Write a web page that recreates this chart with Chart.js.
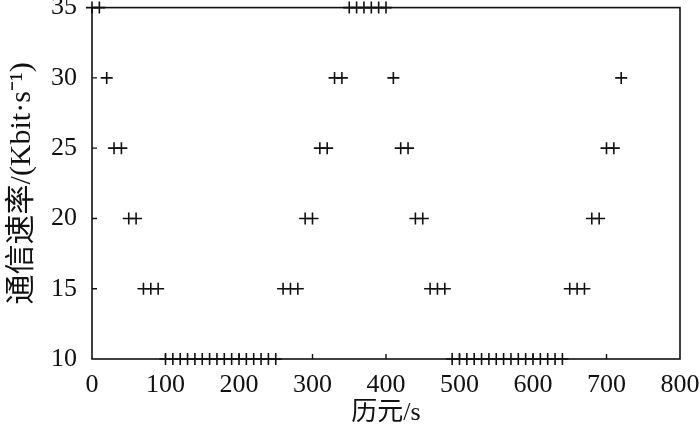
<!DOCTYPE html>
<html>
<head>
<meta charset="utf-8">
<script src="https://cdn.jsdelivr.net/npm/chart.js@4.4.1/dist/chart.umd.min.js"></script>
<style>
  html, body { margin: 0; padding: 0; background: #fff; }
  #wrap { width: 700px; height: 433px; }
</style>
</head>
<body>
<div id="wrap"><canvas id="c"></canvas></div>
<script>
// epoch (s) and communication rate (Kbit/s)
const epochs = [
  0, 10, 20, 30, 40, 50, 60, 70, 80, 90,
  100, 110, 120, 130, 140, 150, 160, 170, 180, 190,
  200, 210, 220, 230, 240, 250, 260, 270, 280, 290,
  300, 310, 320, 330, 340, 350, 360, 370, 380, 390,
  400, 410, 420, 430, 440, 450, 460, 470, 480, 490,
  500, 510, 520, 530, 540, 550, 560, 570, 580, 590,
  600, 610, 620, 630, 640, 650, 660, 670, 680, 690,
  700, 710, 720
];
const rates = [
  35, 35, 30, 25, 25, 20, 20, 15, 15, 15,
  10, 10, 10, 10, 10, 10, 10, 10, 10, 10,
  10, 10, 10, 10, 10, 10, 15, 15, 15, 20,
  20, 25, 25, 30, 30, 35, 35, 35, 35, 35,
  35, 30, 25, 25, 20, 20, 15, 15, 15, 10,
  10, 10, 10, 10, 10, 10, 10, 10, 10, 10,
  10, 10, 10, 10, 10, 15, 15, 15, 20, 20,
  25, 25, 30
];
const xTicks = [0, 100, 200, 300, 400, 500, 600, 700, 800];
const yTicks = [10, 15, 20, 25, 30, 35];

const FONT = "'Liberation Serif', 'Times New Roman', 'Noto Sans CJK SC', serif";
const INK = '#111';

// frame around the plot + short inward tick marks
const framePlugin = {
  id: 'frame',
  afterDatasetsDraw(chart) {
    const { ctx, chartArea: a, scales } = chart;
    ctx.save();
    ctx.strokeStyle = INK;
    ctx.lineWidth = 1.6;
    ctx.strokeRect(a.left, a.top, a.right - a.left, a.bottom - a.top);
    ctx.lineWidth = 1.4;
    ctx.beginPath();
    xTicks.slice(1, -1).forEach(v => {
      const px = scales.x.getPixelForValue(v);
      ctx.moveTo(px, a.bottom);
      ctx.lineTo(px, a.bottom - 5);
    });
    yTicks.slice(1, -1).forEach(v => {
      const py = scales.y.getPixelForValue(v);
      ctx.moveTo(a.left, py);
      ctx.lineTo(a.left + 5, py);
    });
    ctx.stroke();
    ctx.restore();
  }
};

new Chart(document.getElementById('c'), {
  type: 'scatter',
  data: {
    datasets: [{
      data: epochs.map((t, i) => ({ x: t, y: rates[i] })),
      pointStyle: 'cross',
      pointRadius: 6,
      pointHoverRadius: 6,
      borderColor: INK,
      backgroundColor: INK,
      borderWidth: 1.6,
      clip: false
    }]
  },
  options: {
    responsive: true,
    maintainAspectRatio: false,
    animation: false,
    layout: { padding: { top: 6, right: 20, bottom: 0, left: 0 } },
    plugins: { legend: { display: false }, tooltip: { enabled: false } },
    scales: {
      x: {
        type: 'linear',
        min: 0,
        max: 800,
        afterBuildTicks: s => { s.ticks = xTicks.map(v => ({ value: v })); },
        afterFit: s => { s.height = 74; s.paddingLeft = 0; s.paddingRight = 0; },
        grid: { display: false, drawTicks: false },
        border: { display: false },
        ticks: { color: INK, padding: 11, maxRotation: 0, font: { family: FONT, size: 26 } },
        title: {
          display: true,
          text: '历元/s',
          color: INK,
          padding: { top: 0, bottom: 4 },
          font: { family: FONT, size: 26 }
        }
      },
      y: {
        min: 10,
        max: 35,
        afterBuildTicks: s => { s.ticks = yTicks.map(v => ({ value: v })); },
        afterFit: s => { s.width = 92; s.paddingTop = 0; s.paddingBottom = 0; },
        grid: { display: false, drawTicks: false },
        border: { display: false },
        ticks: { color: INK, padding: 15, font: { family: FONT, size: 26 } },
        title: {
          display: true,
          text: '通信速率/(Kbit·s⁻¹)',
          color: INK,
          padding: { top: 4, bottom: 0 },
          font: { family: FONT, size: 30 }
        }
      }
    }
  },
  plugins: [framePlugin]
});
</script>
</body>
</html>
